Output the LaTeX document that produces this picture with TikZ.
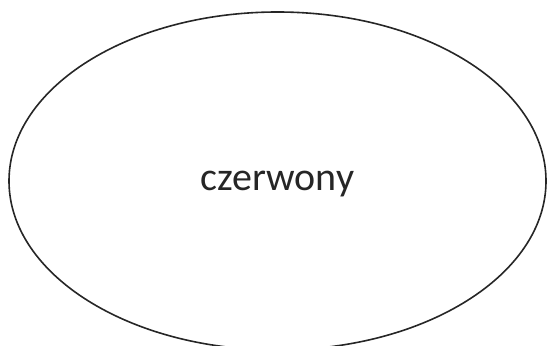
\documentclass[tikz,border=0pt]{standalone}
\usepackage{fontspec}
\setmainfont{Carlito}
\usetikzlibrary{positioning,shapes.geometric}
\definecolor{ink}{HTML}{262626}

\begin{document}
\begin{tikzpicture}[x=1bp, y=1bp, every node/.style={font=\fontsize{40bp}{48bp}\selectfont,text=ink,align=center}]
    \clip (0,0) rectangle (548,345);
    \useasboundingbox (0,0) rectangle (548,345);
    \node (kolor) [ellipse, draw=ink, line width=1.6bp, inner sep=0pt, text depth=0pt,
                   minimum width=537bp, minimum height=338bp] at (277.5,164) {czerwony};
  \end{tikzpicture}
\end{document}
